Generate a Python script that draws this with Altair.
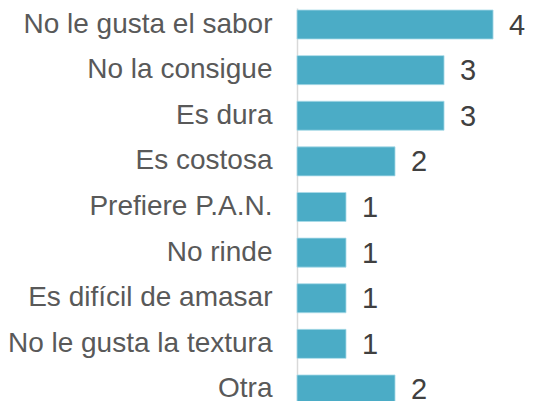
import altair as alt
import pandas as pd

categories = ["No le gusta el sabor", "No la consigue", "Es dura", "Es costosa",
              "Prefiere P.A.N.", "No rinde", "Es difícil de amasar",
              "No le gusta la textura", "Otra"]
values = [4, 3, 3, 2, 1, 1, 1, 1, 2]

df = pd.DataFrame({"cat": categories, "val": values})

y = alt.Y("cat:N", sort=categories,
          scale=alt.Scale(paddingInner=0.364, paddingOuter=0.044),
          axis=alt.Axis(title=None, ticks=False, domain=True, domainColor="#d9d9d9",
                        domainWidth=1.5, labelFont="Liberation Sans", labelFontSize=28,
                        labelColor="#595959", labelPadding=25, labelLimit=400))
x = alt.X("val:Q", scale=alt.Scale(domain=[0, 4.57], nice=False), axis=None)

bars = alt.Chart(df).mark_bar(color="#4bacc6", stroke="#a9dbe8", strokeWidth=0.8).encode(x=x, y=y)
text = alt.Chart(df).mark_text(align="left", baseline="middle", dx=16, dy=1,
                               font="Liberation Sans", fontSize=29, color="#404040").encode(
    x=x, y=y, text="val:Q")

chart = (bars + text).properties(
    width=224, height=398,
    autosize=alt.AutoSizeParams(type="none"),
    padding={"left": 289, "top": 0, "right": 4, "bottom": 0},
).configure_view(stroke=None)

chart.save("out.html", embed_options={"renderer": "svg", "actions": False})
